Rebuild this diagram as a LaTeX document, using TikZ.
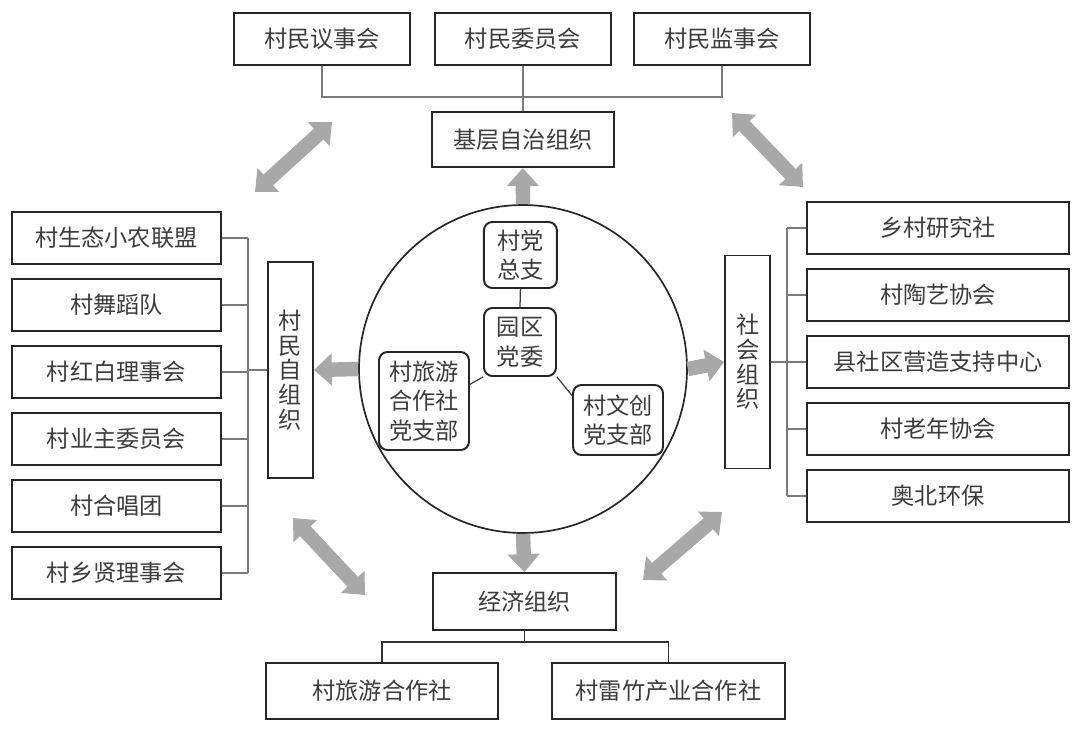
\documentclass[tikz,border=0pt]{standalone}
\usepackage{fontspec}
\setmainfont{Noto Sans CJK SC}
\usetikzlibrary{arrows.meta, positioning, calc}
\definecolor{arrowgray}{HTML}{A8A8A8}
\definecolor{linkgray}{HTML}{7A7A7A}
\definecolor{textgray}{HTML}{3C3C3C}

\begin{document}
\begin{tikzpicture}[
  org/.style={rectangle, draw=black!85, line width=1.4pt, fill=white, minimum height=1.3cm,
              align=center, text=textgray, font=\fontsize{16.5}{20}\selectfont, inner sep=2pt},
  vert/.style={org, minimum width=1.125cm, font=\fontsize{16.5}{17.5}\selectfont},
  party/.style={rectangle, rounded corners=6pt, draw=black!85, line width=1.4pt, fill=white,
                align=center, text=textgray, font=\fontsize{16.5}{21}\selectfont, inner sep=1pt},
  link/.style={draw=linkgray, line width=1.1pt},
  bigarrow/.style={arrowgray, line width=0.36cm, -{Triangle[width=0.78cm, length=0.45cm]}},
  twoway/.style={arrowgray, line width=0.36cm,
                 {Triangle[width=0.78cm, length=0.45cm]}-{Triangle[width=0.78cm, length=0.45cm]}},
]
  \useasboundingbox (0,0) rectangle (27,-18.85);

  % top: self-government
  \node[org, minimum width=4.4cm] (yishi) at (8.05,-0.975) {村民议事会};
  \node[org, minimum width=4.4cm] (weiyuan) at (13.07,-0.975) {村民委员会};
  \node[org, minimum width=4.4cm] (jianshi) at (18.05,-0.975) {村民监事会};
  \node[org, minimum width=4.55cm, minimum height=1.375cm] (jiceng) at (13.07,-3.49) {基层自治组织};
  \coordinate (tbar) at (13.07,-2.425);
  \draw[link] (yishi.south) |- (tbar) -| (jianshi.south);
  \draw[link] (weiyuan.south) -- (jiceng.north);

  % centre circle
  \node[circle, draw=black!85, line width=1.2pt, minimum size=8.2cm] (core) at (13.075,-9.225) {};
  \node[party, minimum width=1.825cm, minimum height=1.65cm] (zongzhi) at (13.01,-6.375) {村党\\总支};
  \node[party, minimum width=1.8cm, minimum height=1.7cm] (dangwei) at (13.0,-8.55) {园区\\党委};
  \node[party, minimum width=2.25cm, minimum height=2.45cm] (lvyou) at (10.6,-10.025) {村旅游\\合作社\\党支部};
  \node[party, minimum width=2.25cm, minimum height=1.75cm] (wenchuang) at (15.45,-10.5) {村文创\\党支部};
  \draw[black!75, line width=0.9pt] (zongzhi.south) -- (dangwei.north);
  \draw[black!75, line width=0.9pt] (dangwei.south west) -- (lvyou.20);
  \draw[black!75, line width=0.9pt] (dangwei.south east) -- (wenchuang.152);

  % left: villagers' own groups
  \node[org, minimum width=5.225cm] (shengtai) at (2.91,-5.95) {村生态小农联盟};
  \node[org, minimum width=5.225cm] (wudao) at (2.91,-7.625) {村舞蹈队};
  \node[org, minimum width=5.225cm] (hongbai) at (2.91,-9.3) {村红白理事会};
  \node[org, minimum width=5.225cm] (yezhu) at (2.91,-10.975) {村业主委员会};
  \node[org, minimum width=5.225cm] (hechang) at (2.91,-12.65) {村合唱团};
  \node[org, minimum width=5.225cm] (xiangxian) at (2.91,-14.325) {村乡贤理事会};
  \node[vert, minimum height=5.4cm] (zizuzhi) at (7.26,-9.25) {村\\民\\自\\组\\织};
  \coordinate (lbar) at (6.2,-9.3);
  \draw[link] (shengtai.east) -- (shengtai -| lbar);
  \draw[link] (wudao.east) -- (wudao -| lbar);
  \draw[link] (hongbai.east) -- (hongbai -| lbar);
  \draw[link] (yezhu.east) -- (yezhu -| lbar);
  \draw[link] (hechang.east) -- (hechang -| lbar);
  \draw[link] (xiangxian.east) -- (xiangxian -| lbar);
  \draw[link] (shengtai -| lbar) -- (xiangxian -| lbar);
  \draw[link] (lbar |- zizuzhi) -- (zizuzhi.west);

  % right: social organisations
  \node[org, minimum width=6.55cm] (yanjiu) at (23.45,-5.7) {乡村研究社};
  \node[org, minimum width=6.55cm] (taoyi) at (23.45,-7.375) {村陶艺协会};
  \node[org, minimum width=6.55cm] (yingzao) at (23.45,-9.05) {县社区营造支持中心};
  \node[org, minimum width=6.55cm] (laonian) at (23.45,-10.725) {村老年协会};
  \node[org, minimum width=6.55cm] (huanbao) at (23.45,-12.4) {奥北环保};
  \node[vert, minimum height=5.325cm] (shehui) at (18.69,-9.05) {社\\会\\组\\织};
  \coordinate (rbar) at (19.675,-9.05);
  \draw[link] (yanjiu.west) -- (yanjiu -| rbar);
  \draw[link] (taoyi.west) -- (taoyi -| rbar);
  \draw[link] (yingzao.west) -- (yingzao -| rbar);
  \draw[link] (laonian.west) -- (laonian -| rbar);
  \draw[link] (huanbao.west) -- (huanbao -| rbar);
  \draw[link] (yanjiu -| rbar) -- (huanbao -| rbar);
  \draw[link] (shehui.east) -- (shehui.east -| rbar);

  % bottom: economic organisations
  \node[org, minimum width=4.575cm, minimum height=1.425cm] (jingji) at (13.11,-15.04) {经济组织};
  \node[org, minimum width=5.8cm, minimum height=1.4cm] (lvyoushe) at (9.55,-17.275) {村旅游合作社};
  \node[org, minimum width=5.825cm, minimum height=1.4cm] (leizhu) at (16.71,-17.275) {村雷竹产业合作社};
  \coordinate (bbar) at (13.11,-16.05);
  \draw[link, draw=black!80] (jingji.south) -- (bbar);
  \draw[link, draw=black!80] (lvyoushe.north) |- (bbar) -| (leizhu.north);

  % gray arrows
  \draw[bigarrow] (core.north) -- (jiceng.south);
  \draw[bigarrow] (core.south) -- (jingji.north);
  \draw[bigarrow] (core.west) -- (zizuzhi.east);
  \draw[bigarrow] (core.east) -- (shehui.west);

  \coordinate (tla) at (6.375,-4.8);
  \coordinate (tlb) at (8.3,-3.05);
  \coordinate (tra) at (18.3,-2.825);
  \coordinate (trb) at (20.075,-4.675);
  \coordinate (bla) at (7.325,-12.95);
  \coordinate (blb) at (9.125,-14.875);
  \coordinate (bra) at (16.075,-14.5);
  \coordinate (brb) at (18.05,-12.8);
  \draw[twoway] (tla) -- (tlb);
  \draw[twoway] (tra) -- (trb);
  \draw[twoway] (bla) -- (blb);
  \draw[twoway] (bra) -- (brb);

\end{tikzpicture}
\end{document}
